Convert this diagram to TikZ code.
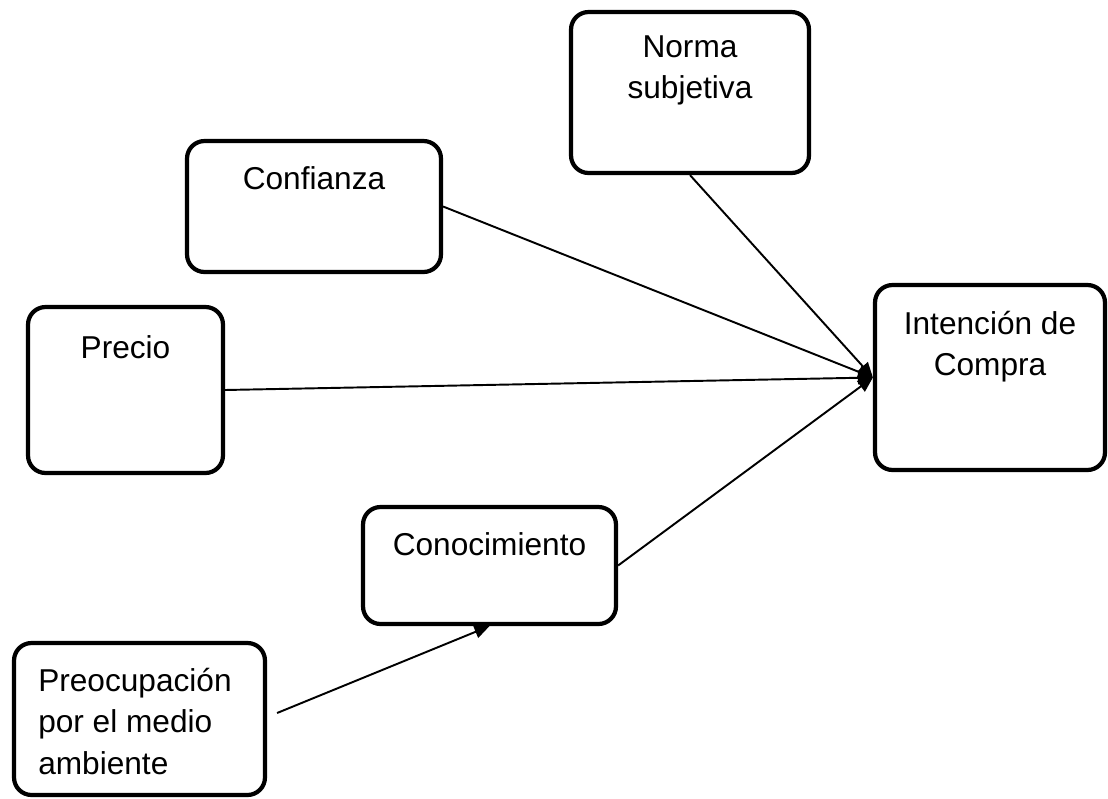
\documentclass[tikz,border=0pt]{standalone}
\usepackage{fontspec}
\setmainfont{Liberation Sans}
\usetikzlibrary{arrows.meta,positioning}

\begin{document}
\begin{tikzpicture}[x=0.02cm, y=-0.02cm, font=\fontsize{18}{23.5}\selectfont,
		caja/.style={draw, line width=2.4pt, rounded corners=0.35cm, inner sep=0pt},
		titulo/.style={anchor=north, yshift=-0.54cm, align=center, inner sep=0pt},
		flecha/.style={line width=1.1pt, -{Triangle[length=0.3cm,width=0.26cm]}}]
				\useasboundingbox (0,0) rectangle (1108,798);
				\node[caja, minimum width=4.76cm, minimum height=3.22cm, label={[titulo, yshift=0.04cm]north:Norma\\subjetiva}] (norma) at (690,92.5) {};
				\node[caja, minimum width=5.08cm, minimum height=2.62cm, label={[titulo]north:Confianza}] (confianza) at (314,206.5) {};
				\node[caja, minimum width=3.9cm, minimum height=3.32cm, label={[titulo, yshift=-0.06cm]north:Precio}] (precio) at (125.5,390) {};
				\node[caja, minimum width=4.6cm, minimum height=3.7cm, label={[titulo, yshift=-0.02cm]north:Intención de\\Compra}] (intencion) at (990,377.5) {};
				\node[caja, minimum width=5.06cm, minimum height=2.34cm, label={[titulo]north:Conocimiento}] (conocimiento) at (489.5,565.5) {};
				\node[caja, minimum width=5.02cm, minimum height=3.04cm, label={[titulo, anchor=north west, align=left, xshift=0.52cm]north west:Preocupación\\por el medio\\ambiente}] (preocupacion) at (139.5,719) {};
				
				\draw[flecha] (norma.south) -- (intencion.west);
				\draw[flecha] (confianza.east) -- (intencion.west);
				\draw[flecha] (precio.east) -- (intencion.west);
				\draw[flecha] (conocimiento.east) -- (intencion.west);
				\draw[flecha] ([xshift=0.2cm,yshift=0.12cm]preocupacion.east) -- (conocimiento.south);
\end{tikzpicture}
\end{document}
